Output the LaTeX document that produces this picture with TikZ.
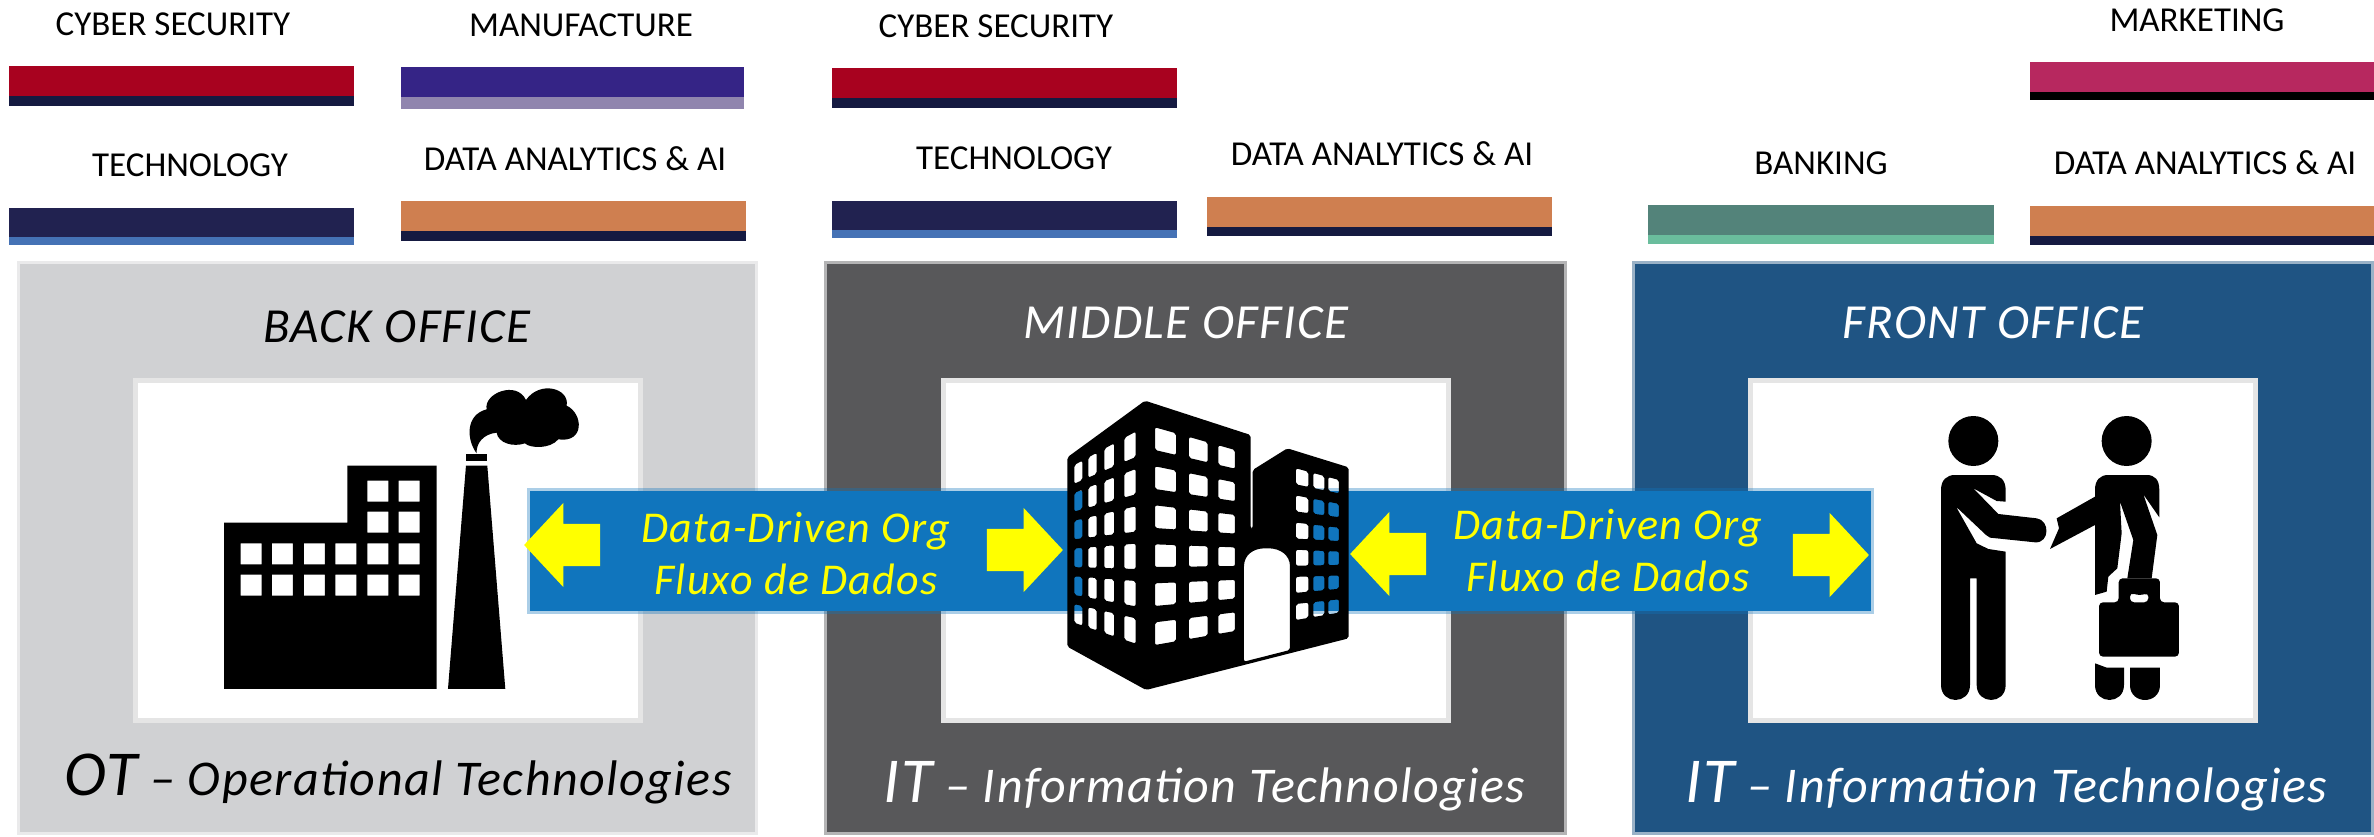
\documentclass[tikz,border=0pt]{standalone}
\usepackage{fontspec}
\setmainfont{Carlito}
\newfontfamily\spacedfont[LetterSpace=3]{Carlito}
\usetikzlibrary{shapes.arrows}

\definecolor{cyberred}{HTML}{A8021F}
\definecolor{navyline}{HTML}{151A41}
\definecolor{factoryblue}{HTML}{352486}
\definecolor{factorylilac}{HTML}{9085AE}
\definecolor{technavy}{HTML}{212250}
\definecolor{techblue}{HTML}{4572B5}
\definecolor{dataorange}{HTML}{CF7F50}
\definecolor{marketpink}{HTML}{B7285F}
\definecolor{bankteal}{HTML}{53837A}
\definecolor{bankmint}{HTML}{6ABD9D}
\definecolor{backgrey}{HTML}{D0D1D3}
\definecolor{middlegrey}{HTML}{58585A}
\definecolor{frontblue}{HTML}{1F5483}
\definecolor{flowblue}{HTML}{1075BD}
\definecolor{flowyellow}{HTML}{FFFF00}

\tikzset{
  office/.style={fill=#1, draw=#1, draw opacity=.45, line width=6pt, inner sep=0pt, outer sep=0pt, anchor=north west, minimum height=568pt},
  frame/.style={fill=white, draw=black!10, line width=5pt, inner sep=0pt, outer sep=0pt, anchor=north west, minimum width=505pt, minimum height=340pt},
  flow/.style={fill=flowblue, draw=flowblue, draw opacity=.35, line width=6pt, inner sep=0pt, outer sep=0pt, anchor=north west, minimum height=120pt},
  flowtext/.style={text=flowyellow, align=center, inner sep=0pt, font=\spacedfont\itshape\fontsize{44}{52}\selectfont},
  flowarrow/.style={single arrow, fill=flowyellow, inner xsep=0pt, inner ysep=21pt, outer sep=0pt, minimum height=76pt,
    single arrow head extend=21pt, single arrow tip angle=94},
  stripelabel/.style={inner sep=0pt, font=\fontsize{35}{40}\selectfont},
  officetitle/.style={inner sep=0pt, font=\spacedfont\itshape\fontsize{49}{56}\selectfont},
  techlabel/.style={inner sep=0pt, anchor=base west, font=\spacedfont\itshape\fontsize{50}{58}\selectfont}
}

\begin{document}
\begin{tikzpicture}[x=1pt,y=-1pt]
\useasboundingbox (0,0) rectangle (2374,836);

% coloured stripes and their labels
\foreach \xa/\xb/\ya/\yb/\yc/\upper/\lower/\lx/\ly/\txt in {
  9/354/66/96/106/cyberred/navyline/173/24/CYBER SECURITY,
  401/744/67/97/109/factoryblue/factorylilac/581/25/MANUFACTURE,
  9/354/208/237/245/technavy/techblue/190/165/TECHNOLOGY,
  401/746/201/231/241/dataorange/navyline/575/159/DATA ANALYTICS \& AI,
  832/1177/68/98/108/cyberred/navyline/996/26/CYBER SECURITY,
  832/1177/201/230/238/technavy/techblue/1014/158/TECHNOLOGY,
  1207/1552/197/227/236/dataorange/navyline/1382/154/DATA ANALYTICS \& AI,
  2030/2374/62/92/100/marketpink/black/2197/20/MARKETING,
  1648/1994/205/235/244/bankteal/bankmint/1821/163/BANKING,
  2030/2374/206/236/245/dataorange/navyline/2205/163/DATA ANALYTICS \& AI}{
  \fill[\upper] (\xa,\ya) rectangle (\xb,\yb);
  \fill[\lower] (\xa,\yb) rectangle (\xb,\yc);
  \node[stripelabel] at (\lx,\ly) {\txt};
}

% offices
\node[office=backgrey, minimum width=735pt] (backoffice) at (20,264) {};
\node[office=middlegrey, minimum width=737pt] (middleoffice) at (827,264) {};
\node[office=frontblue, minimum width=736pt] (frontoffice) at (1635,264) {};

\node[frame] (backframe) at (135,380) {};
\node[frame] (middleframe) at (943,380) {};
\node[frame] (frontframe) at (1750,380) {};

\node[officetitle] (backtitle) at (397,327) {BACK OFFICE};
\node[officetitle, text=white] (middletitle) at (1186,323) {MIDDLE OFFICE};
\node[officetitle, text=white] (fronttitle) at (1993,323) {FRONT OFFICE};

\node[techlabel] (backtech) at (64,795) {{\fontsize{64}{64}\selectfont OT} – Operational Technologies};
\node[techlabel, text=white] (middletech) at (883,802) {{\fontsize{64}{64}\selectfont IT} – Information Technologies};
\node[techlabel, text=white] (fronttech) at (1685,802) {{\fontsize{64}{64}\selectfont IT} – Information Technologies};

% data flow banners
\node[flow, minimum width=553pt] (leftflow) at (530,491) {};
\node[flow, minimum width=558pt] (rightflow) at (1313,491) {};

\node[flowarrow, shape border rotate=180] (leftback) at (572,545) {};
\node[flowarrow] (leftfore) at (1015,550) {};
\node[flowarrow, shape border rotate=180] (rightback) at (1398,554) {};
\node[flowarrow] (rightfore) at (1821,555) {};

\node[flowtext] (lefttext) at (796,554) {Data-Driven Org\\Fluxo de Dados};
\node[flowtext] (righttext) at (1608,551) {Data-Driven Org\\Fluxo de Dados};

% factory
\begin{scope}[shift={(200,360)},scale=0.3333]
\fill[even odd rule] (72,987) -- (72,488) -- (442,488) -- (442,317) -- (710,317) -- (710,987) -- cycle
  \foreach \wx in {122,216,312,406,502,596} {\foreach \wy in {550,644} {(\wx,\wy) rectangle ++(63,63)}}
  \foreach \wx in {502,596} {\foreach \wy in {362,455} {(\wx,\wy) rectangle ++(63,63)}};
\fill (744,987) -- (798,317) -- (862,317) -- (916,987) -- cycle;
\fill (798,283) rectangle (862,303);
\fill (830,280) .. controls (800,240) and (795,165) .. (860,148)
  .. controls (850,100) and (950,60) .. (978,120)
  .. controls (1020,60) and (1110,85) .. (1100,137)
  .. controls (1150,160) and (1155,250) .. (1075,238)
  .. controls (1050,268) and (990,265) .. (975,250)
  .. controls (940,262) and (895,250) .. (890,218)
  .. controls (850,222) and (828,250) .. (830,280) -- cycle;
\end{scope}

% office block, its windows are holes
\begin{scope}[shift={(1040,380)},scale=0.3333,
  declare function={
    mix(\p,\q,\s)=\p+(\q-\p)*\s;
    lefttop(\u,\r)=mix(255+83.5*\r,155+112*\r,(\u-103)/184);
    leftht(\u)=mix(56,76,(\u-103)/184);
    midtop(\u,\r)=mix(142+117*\r,210+97.4*\r,(\u-345)/240);
    midht(\u)=mix(68,56,(\u-345)/240);
    sidetop(\u,\r)=mix(265+81.4*\r,300+71.6*\r,(\u-768)/129);
    sideht(\u)=mix(48,40,(\u-768)/129);}]
\fill[even odd rule, rounded corners=2pt]
  (82,232) -- (315,62) -- (632,165) -- (632,445) -- (638,445) -- (638,270) -- (742,205) -- (926,262)
  -- (926,775) -- (318,930) -- (82,800) -- cycle
  (612,845) -- (612,565) .. controls (612,525) and (640,505) .. (680,505)
  .. controls (720,505) and (750,525) .. (750,565) -- (750,810) -- cycle
  \foreach \xa/\xb in {103/127,145/170,193/222,253/287} {\foreach \r in {0,...,5} {
    (\xa,{lefttop(\xa,\r)}) -- (\xb,{lefttop(\xb,\r)}) -- (\xb,{lefttop(\xb,\r)+leftht(\xb)}) -- (\xa,{lefttop(\xa,\r)+leftht(\xa)}) -- cycle}}
  \foreach \xa/\xb in {345/408,447/503,535/585} {\foreach \r in {0,...,5} {
    (\xa,{midtop(\xa,\r)}) -- (\xb,{midtop(\xb,\r)}) -- (\xb,{midtop(\xb,\r)+midht(\xb)}) -- (\xa,{midtop(\xa,\r)+midht(\xa)}) -- cycle}}
  \foreach \xa/\xb in {768/805,820/853,865/897} {\foreach \r in {0,...,5} {
    (\xa,{sidetop(\xa,\r)}) -- (\xb,{sidetop(\xb,\r)}) -- (\xb,{sidetop(\xb,\r)+sideht(\xb)}) -- (\xa,{sidetop(\xa,\r)+sideht(\xa)}) -- cycle}};
\end{scope}

% handshake
\begin{scope}[shift={(1880,400)},scale=0.3333]
\fill (280,123) circle (75);
\fill (740,123) circle (75);
% left man
\fill (183,270) .. controls (183,240) and (200,225) .. (225,225) -- (335,225)
  .. controls (360,225) and (377,240) .. (377,270) -- (377,305) -- (350,303) -- (280,265) -- (355,342)
  -- (470,355) .. controls (510,360) and (510,430) .. (465,427) -- (330,413) -- (318,405) -- (228,320)
  -- (290,430) -- (325,447) -- (377,455) -- (377,855) .. controls (377,915) and (290,915) .. (290,855)
  -- (290,535) -- (270,535) -- (270,855) .. controls (270,915) and (183,915) .. (183,855) -- cycle;
% right man
\fill (645,270) .. controls (645,240) and (660,225) .. (685,225) -- (800,225)
  .. controls (825,225) and (838,240) .. (838,270) -- (838,352) -- (790,283) -- (832,405) -- (815,535)
  -- (742,535) -- (760,420) -- (720,305) -- (725,400) -- (712,505) -- (685,530) -- (680,575) -- (645,585)
  -- (645,375) -- (510,447) -- (537,385) -- (530,355) -- (645,290) -- cycle;
% briefcase
\fill[even odd rule, rounded corners=4pt] (657,607) -- (716,607) -- (716,535) -- (840,535) -- (840,607)
  -- (897,607) -- (897,770) -- (657,770) -- cycle
  (750,607) -- (750,578) -- (770,585) -- (790,585) -- (805,578) -- (805,607) -- cycle;
\fill (645,790) -- (680,803) -- (732,803) -- (732,855) .. controls (732,915) and (645,915) .. (645,855) -- cycle;
\fill (750,803) -- (840,803) -- (840,855) .. controls (840,915) and (750,915) .. (750,855) -- cycle;
\end{scope}
\end{tikzpicture}
\end{document}
